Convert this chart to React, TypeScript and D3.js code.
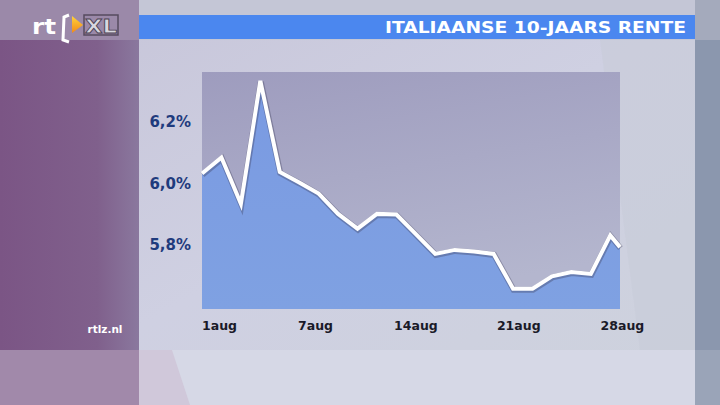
import React from 'react';
import * as d3 from 'd3';

const tradingDay = [0, 1, 2, 3, 4, 5, 6, 7, 8, 9, 10, 11, 12, 13, 14, 15, 16, 17, 18, 19, 20, 21, 21.5];
const rates = [6.032, 6.084, 5.934, 6.333, 6.037, 6.003, 5.967, 5.901, 5.853, 5.901, 5.899, 5.835, 5.771, 5.784, 5.779, 5.771, 5.658, 5.658, 5.698, 5.712, 5.706, 5.831, 5.793];
const yTicks = [5.8, 6.0, 6.2];
const xTickLabels = ['1aug', '7aug', '14aug', '21aug', '28aug'];
const xTickPos = [0, 4.94, 9.88, 15.17, 20.5];
const title = 'ITALIAANSE 10-JAARS RENTE';

const W = 720;
const H = 405;
const plot = { left: 202, right: 620, top: 72, bottom: 309 };

export default function App() {
  const x = d3.scaleLinear().domain([0, 21.5]).range([plot.left, plot.right]);
  const y = d3.scaleLinear().domain([5.592, 6.362]).range([plot.bottom, plot.top]);
  const pts = tradingDay.map((d, i) => [d, rates[i]] as [number, number]);
  const line = d3.line<[number, number]>().x(d => x(d[0])).y(d => y(d[1]));
  const area = d3.area<[number, number]>().x(d => x(d[0])).y0(plot.bottom).y1(d => y(d[1]));
  const fmt = (v: number) => v.toFixed(1).replace('.', ',') + '%';

  return (
    <svg width={W} height={H} style={{ position: 'absolute', left: 0, top: 0 }}>
      <defs>
        <linearGradient id="midBg" x1="0" y1="0" x2="1" y2="1">
          <stop offset="0" stopColor="#c6c4d8" />
          <stop offset="0.5" stopColor="#cfd0e2" />
          <stop offset="1" stopColor="#cdd2dc" />
        </linearGradient>
        <linearGradient id="leftBg" x1="0" y1="0" x2="1" y2="0">
          <stop offset="0" stopColor="#7b5585" />
          <stop offset="0.7" stopColor="#80608c" />
          <stop offset="1" stopColor="#8a789e" />
        </linearGradient>
        <linearGradient id="plotBg" x1="0" y1="0" x2="0.3" y2="1">
          <stop offset="0" stopColor="#9e9cbe" />
          <stop offset="1" stopColor="#b4b6ce" />
        </linearGradient>
        <linearGradient id="fillBg" x1="0" y1="0" x2="0" y2="1">
          <stop offset="0" stopColor="#7a9ae2" />
          <stop offset="1" stopColor="#7fa1e2" />
        </linearGradient>
        <linearGradient id="tri" x1="0" y1="0" x2="0" y2="1">
          <stop offset="0" stopColor="#ffd23a" />
          <stop offset="1" stopColor="#f08a1a" />
        </linearGradient>
      </defs>

      {/* background */}
      <rect x={0} y={0} width={W} height={H} fill="url(#midBg)" />
      <rect x={139} y={0} width={556} height={40} fill="#c4c6d6" />
      <polygon points="600,40 695,40 695,350 640,350" fill="#c8ccd8" opacity={0.6} />
      <rect x={139} y={350} width={556} height={55} fill="#d6d8e6" />
      <polygon points="139,350 172,350 190,405 139,405" fill="#d0c8da" />
      <rect x={0} y={40} width={139} height={310} fill="url(#leftBg)" />
      <rect x={0} y={0} width={139} height={40} fill="#9b89a9" />
      <rect x={0} y={350} width={139} height={55} fill="#a189aa" />
      <rect x={695} y={0} width={25} height={H} fill="#8b97ae" />
      <rect x={695} y={350} width={25} height={55} fill="#9aa4b8" />
      <rect x={695} y={0} width={25} height={40} fill="#a4aabc" />

      {/* title bar */}
      <rect x={139} y={15} width={556} height={24} fill="#4b87ef" />
      <text x={686} y={33} textAnchor="end" fill="#ffffff" fontFamily="DejaVu Sans" fontWeight="bold" fontSize={16} textLength={301} lengthAdjust="spacingAndGlyphs">{title}</text>

      {/* logo */}
      <text x={32} y={34} fill="#ffffff" fontFamily="DejaVu Sans" fontWeight="bold" fontSize={21} textLength={24} lengthAdjust="spacingAndGlyphs">rt</text>
      <path d="M69,15 L64,17 L63,40 L69,42" fill="none" stroke="#ffffff" strokeWidth={3} />
      <polygon points="72,16 83,25 72,33" fill="url(#tri)" />
      <rect x={84} y={15} width={34} height={20} fill="none" stroke="#3a3040" strokeWidth={1.5} opacity={0.7} />
      <text x={85} y={33} fill="#d8d8e0" stroke="#4a4050" strokeWidth={0.8} fontFamily="DejaVu Sans" fontWeight="bold" fontSize={19} textLength={32} lengthAdjust="spacingAndGlyphs">XL</text>

      {/* plot */}
      <rect x={plot.left} y={plot.top} width={plot.right - plot.left} height={plot.bottom - plot.top} fill="url(#plotBg)" />
      <path d={area(pts) || ''} fill="url(#fillBg)" />
      <path d={line(pts) || ''} fill="none" stroke="#3a3a55" strokeOpacity={0.35} strokeWidth={6} strokeLinejoin="miter" transform="translate(0.5,1)" />
      <path d={line(pts) || ''} fill="none" stroke="#ffffff" strokeWidth={4} strokeLinejoin="miter" />

      {/* y axis labels */}
      {yTicks.map(t => (
        <text key={t} x={191} y={y(t)} dy="0.36em" textAnchor="end" fill="#1f3b7d" fontFamily="DejaVu Sans" fontWeight="bold" fontSize={15}>{fmt(t)}</text>
      ))}

      {/* x axis labels */}
      {xTickLabels.map((l, i) => (
        <text key={l} x={x(xTickPos[i])} y={330} textAnchor="start" fill="#1a1a28" fontFamily="DejaVu Sans" fontWeight="bold" fontSize={12.5}>{l}</text>
      ))}

      <text x={105} y={333} textAnchor="middle" fill="#ffffff" fontFamily="DejaVu Sans" fontWeight="bold" fontSize={10.5}>rtlz.nl</text>
    </svg>
  );
}
